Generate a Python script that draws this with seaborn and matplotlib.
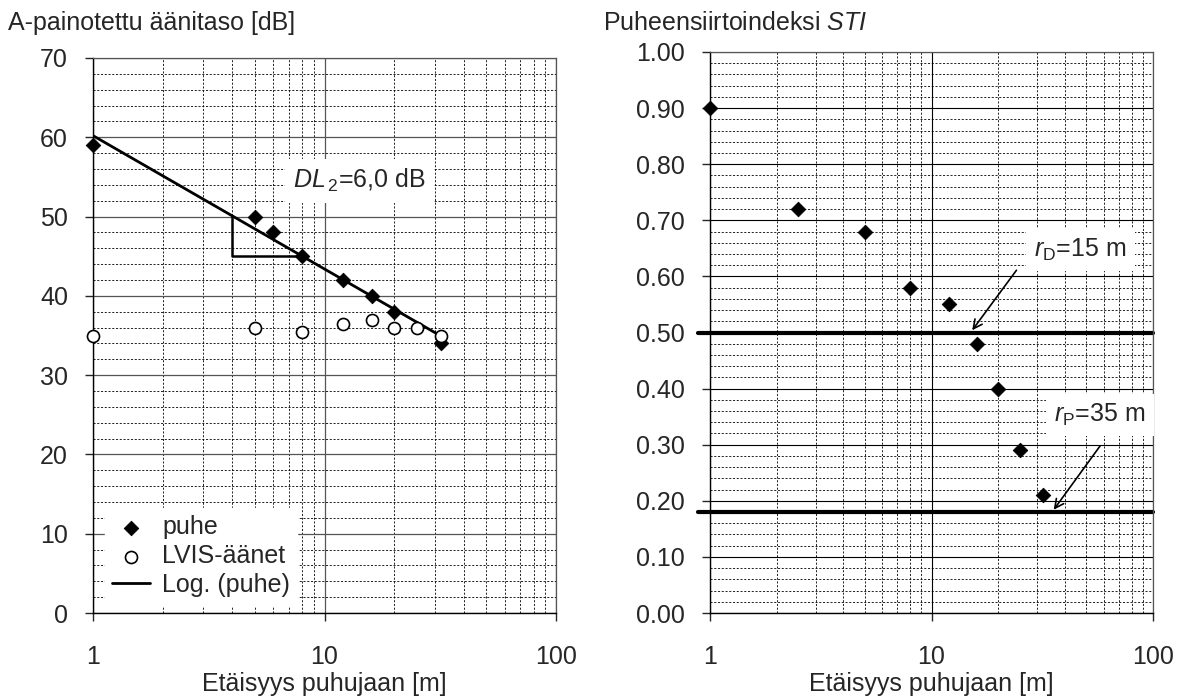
import matplotlib
matplotlib.use("Agg")
import matplotlib.pyplot as plt
from matplotlib.ticker import MultipleLocator, LogLocator, FormatStrFormatter, NullFormatter
import seaborn as sns
import numpy as np
import pandas as pd

# data
puhe_r = [1, 5, 6, 8, 12, 16, 20, 32]
puhe_db = [59, 50, 48, 45, 42, 40, 38, 34]
lvis_r = [1, 5, 8, 12, 16, 20, 25, 32]
lvis_db = [35, 36, 35.5, 36.5, 37, 36, 36, 35]
sti_r = [1, 2.5, 5, 8, 12, 16, 20, 25, 32]
sti = [0.90, 0.72, 0.68, 0.58, 0.55, 0.48, 0.40, 0.29, 0.21]
sti_limits = [0.50, 0.18]
r_d = 15
r_p = 35
x_ticks = [1, 10, 100]

sns.set_style("white")
plt.rcParams["font.family"] = ["Liberation Sans", "DejaVu Sans"]
plt.rcParams["mathtext.fontset"] = "custom"
plt.rcParams["mathtext.rm"] = "Liberation Sans"
plt.rcParams["mathtext.it"] = "Liberation Sans:italic"

FS = 18

fig = plt.figure(figsize=(11.82, 6.97), dpi=100)
ax1 = fig.add_axes([0.0787, 0.1205, 0.3917, 0.7963])
ax2 = fig.add_axes([0.6007, 0.1205, 0.3748, 0.8049])


def style_axes(ax, ymax, ymajor, yminor):
    ax.set_xscale("log")
    ax.set_xlim(1, 100)
    ax.set_ylim(0, ymax)
    ax.set_xticks(x_ticks)
    ax.set_xticklabels([str(t) for t in x_ticks])
    ax.xaxis.set_minor_locator(LogLocator(base=10, subs=np.arange(2, 10)))
    ax.xaxis.set_minor_formatter(NullFormatter())
    ax.yaxis.set_major_locator(MultipleLocator(ymajor))
    ax.yaxis.set_minor_locator(MultipleLocator(yminor))
    ax.grid(which="major", color="#555555", lw=0.9, ls="-")
    ax.grid(which="minor", color="black", lw=0.6, ls=(0, (2.5, 2)))
    ax.set_axisbelow(True)
    ax.tick_params(which="major", direction="out", length=6, width=1,
                   labelsize=FS, bottom=True, left=True)
    ax.tick_params(axis="x", which="major", pad=17)
    ax.tick_params(axis="y", which="major", pad=12)
    ax.tick_params(which="minor", length=0)
    for s in ["left", "bottom"]:
        ax.spines[s].set_color("black")
        ax.spines[s].set_linewidth(1.0)
    for s in ["top", "right"]:
        ax.spines[s].set_color("#555555")
        ax.spines[s].set_linewidth(0.9)


# ---- left: A-weighted level
style_axes(ax1, 70, 10, 2)

# logarithmic trend of speech (like Excel's Log. trendline)
b, a = np.polyfit(np.log(puhe_r), puhe_db, 1)
trend = pd.DataFrame({"r": [min(puhe_r), max(puhe_r)]})
trend["L"] = a + b * np.log(trend["r"])
sns.lineplot(data=trend, x="r", y="L", ax=ax1, color="black", lw=2,
             label="Log. (puhe)", zorder=3)

# DL2 triangle between 4 m and 8 m
tri_x = [4, 4, 8]
tri_y = [a + b * np.log(4), a + b * np.log(8), a + b * np.log(8)]
ax1.plot(tri_x, tri_y, color="black", lw=1.8, zorder=3)

sns.scatterplot(x=puhe_r, y=puhe_db, ax=ax1, marker="D", s=55, color="black",
                edgecolor="black", label="puhe", zorder=4, clip_on=False)
sns.scatterplot(x=lvis_r, y=lvis_db, ax=ax1, marker="o", s=75, color="white",
                edgecolor="black", linewidth=1.2, label="LVIS-äänet", zorder=4,
                clip_on=False)

h, l = ax1.get_legend_handles_labels()
order = [l.index("puhe"), l.index("LVIS-äänet"), l.index("Log. (puhe)")]
leg = ax1.legend([h[i] for i in order], [l[i] for i in order], loc="lower left",
                 bbox_to_anchor=(0.025, 0.015), borderaxespad=0, fontsize=FS,
                 frameon=True, fancybox=False, handlelength=1.5,
                 handletextpad=0.5, labelspacing=0.2, borderpad=0.3)
leg.get_frame().set_edgecolor("white")
leg.get_frame().set_alpha(1)

ax1.text(14.2, 54.5, r"$\it{DL}$$_{\,2}$=6,0 dB", fontsize=FS, ha="center",
         va="center", zorder=5,
         bbox=dict(facecolor="white", edgecolor="none", pad=6))

fig.text(0.007, 0.967, "A-painotettu äänitaso [dB]", fontsize=FS,
         ha="left", va="center")

# ---- right: STI
style_axes(ax2, 1.0, 0.1, 0.02)
ax2.yaxis.set_major_formatter(FormatStrFormatter("%.2f"))
ax2.grid(which="major", axis="both", color="black", lw=0.8, ls="-")

for v in sti_limits:
    ax2.axhline(v, xmin=-0.027, xmax=1, color="black", lw=3, clip_on=False,
                zorder=2.5)

sns.scatterplot(x=sti_r, y=sti, ax=ax2, marker="D", s=55, color="black",
                edgecolor="black", zorder=4, clip_on=False, legend=False)

ax2.annotate("", xy=(r_d, sti_limits[0]), xytext=(24.6, 0.615),
             arrowprops=dict(arrowstyle="->", color="black", lw=1.2,
                             mutation_scale=16), zorder=5)
ax2.text(47, 0.648, r"$\it{r}$$_{\rm D}$=15 m", fontsize=FS, ha="center",
         va="center", zorder=5,
         bbox=dict(facecolor="white", edgecolor="none", pad=6))

ax2.annotate("", xy=(r_p, sti_limits[1]), xytext=(58.7, 0.302),
             arrowprops=dict(arrowstyle="->", color="black", lw=1.2,
                             mutation_scale=16), zorder=5)
ax2.text(57.6, 0.353, r"$\it{r}$$_{\rm P}$=35 m", fontsize=FS, ha="center",
         va="center", zorder=5,
         bbox=dict(facecolor="white", edgecolor="none", pad=6))

fig.text(0.510, 0.967, r"Puheensiirtoindeksi $\it{STI}$", fontsize=FS,
         ha="left", va="center")

for ax in (ax1, ax2):
    ax.set_xlabel("Etäisyys puhujaan [m]", fontsize=FS, labelpad=2)
    ax.set_ylabel("")

fig.savefig("out.png", dpi=100, facecolor="white")
